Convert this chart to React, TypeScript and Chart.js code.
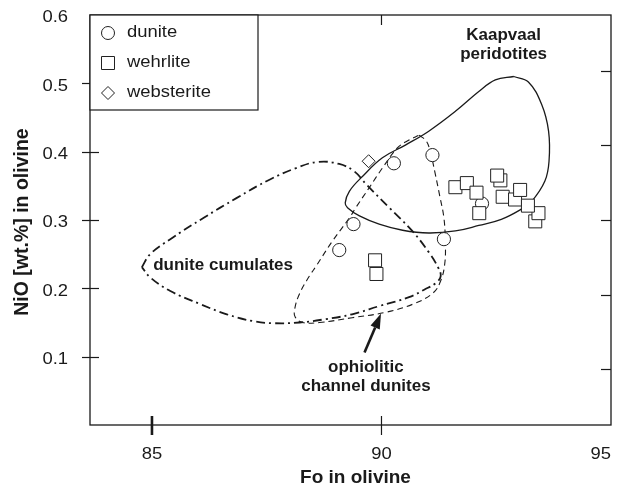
import React, { useEffect, useRef } from "react";
import { Chart, registerables } from "chart.js";

Chart.register(...registerables);

// ---- data (Fo in olivine, NiO wt.%) ----
const duniteFo = [90.27, 91.11, 89.39, 89.08, 91.36, 92.19];
const duniteNiO = [0.383, 0.395, 0.294, 0.256, 0.272, 0.324];

const wehrliteFo = [91.61, 91.86, 92.07, 92.13, 92.59, 92.52, 92.64, 92.91, 93.02, 93.35, 93.42, 93.19, 89.86, 89.89];
const wehrliteNiO = [0.348, 0.354, 0.340, 0.310, 0.358, 0.365, 0.334, 0.330, 0.344, 0.298, 0.310, 0.321, 0.241, 0.221];

const websteriteFo = [89.72];
const websteriteNiO = [0.386];

const kaapvaalFo = [92.88, 93.2, 93.49, 93.64, 93.65, 93.56, 93.27, 93.05, 92.61, 92.12, 91.61, 91.03, 90.46, 89.95, 89.52, 89.26, 89.21, 89.3, 89.59, 90.02, 90.53, 91.03, 91.61, 92.12, 92.48];
const kaapvaalNiO = [0.51, 0.502, 0.469, 0.43, 0.386, 0.357, 0.327, 0.316, 0.301, 0.292, 0.284, 0.281, 0.285, 0.294, 0.306, 0.318, 0.325, 0.342, 0.364, 0.391, 0.41, 0.43, 0.459, 0.488, 0.505];

const ophioliticFo = [90.82, 90.97, 91.06, 91.16, 91.27, 91.36, 91.39, 91.38, 91.29, 91.12, 90.69, 90.1, 89.36, 88.65, 88.28, 88.12, 88.11, 88.22, 88.43, 88.58, 88.93, 89.3, 89.45, 89.73, 90.02, 90.34, 90.6];
const ophioliticNiO = [0.424, 0.416, 0.401, 0.371, 0.335, 0.303, 0.269, 0.237, 0.211, 0.193, 0.177, 0.165, 0.157, 0.15, 0.15, 0.158, 0.17, 0.193, 0.218, 0.233, 0.269, 0.303, 0.319, 0.347, 0.376, 0.405, 0.417];

const cumulatesFo = [84.78, 84.96, 85.4, 86.12, 86.84, 87.56, 88.14, 88.61, 89.08, 89.41, 89.67, 90.17, 90.67, 91.03, 91.23, 91.29, 91.19, 90.93, 90.6, 89.95, 89.36, 88.79, 88.22, 87.64, 87.2, 86.63, 86.05, 85.4, 84.96];
const cumulatesNiO = [0.231, 0.25, 0.272, 0.303, 0.332, 0.359, 0.376, 0.385, 0.382, 0.371, 0.352, 0.318, 0.284, 0.253, 0.231, 0.218, 0.208, 0.198, 0.187, 0.174, 0.162, 0.155, 0.15, 0.149, 0.152, 0.162, 0.177, 0.196, 0.216];

// ---- axes / ticks ----
const xTickValues = [85, 90, 95];
const yTickValues = [0.1, 0.2, 0.3, 0.4, 0.5, 0.6];
const rightTickValues = [1, 2, 3, 4, 5];
const xTitle = "Fo in olivine";
const yTitle = "NiO [wt.%] in olivine";

// ---- legend & annotations ----
const legendLabels = ["dunite", "wehrlite", "websterite"];
const legendStyles = ["circle", "rect", "rectRot"];
const labelTexts = ["Kaapvaal", "peridotites", "dunite cumulates", "ophiolitic", "channel dunites"];
const labelFo = [92.66, 92.66, 86.55, 89.66, 89.66];
const labelNiO = [0.57, 0.542, 0.234, 0.084, 0.056];
const arrowFo = [89.63, 89.99];
const arrowNiO = [0.106, 0.163];

const FONT = "'Liberation Sans', Arial, Helvetica, sans-serif";
const INK = "#1a1a1a";

const pts = (xs: number[], ys: number[]) => xs.map((x, i) => ({ x, y: ys[i] }));
const closed = (xs: number[], ys: number[]) => {
  const p = pts(xs, ys);
  return [...p, p[0]];
};

function drawText(ctx: CanvasRenderingContext2D, text: string, x: number, y: number, font: string, align: CanvasTextAlign, stretch = 1) {
  ctx.save();
  ctx.font = font;
  ctx.fillStyle = INK;
  ctx.textBaseline = "middle";
  ctx.textAlign = align;
  ctx.translate(x, y);
  ctx.scale(stretch, 1);
  ctx.fillText(text, 0, 0);
  ctx.restore();
}

function drawMarker(ctx: CanvasRenderingContext2D, style: string, x: number, y: number) {
  ctx.save();
  ctx.beginPath();
  if (style === "circle") {
    ctx.arc(x, y, 6.5, 0, Math.PI * 2);
  } else if (style === "rect") {
    ctx.rect(x - 6.5, y - 6.5, 13, 13);
  } else {
    ctx.moveTo(x - 6.5, y);
    ctx.lineTo(x, y - 6.5);
    ctx.lineTo(x + 6.5, y);
    ctx.lineTo(x, y + 6.5);
    ctx.closePath();
  }
  ctx.fillStyle = "#fff";
  ctx.fill();
  ctx.lineWidth = 1;
  ctx.strokeStyle = "#222";
  ctx.stroke();
  ctx.restore();
}

const decorPlugin = {
  id: "decor",
  beforeDraw(chart: any) {
    const ctx = chart.ctx;
    ctx.save();
    ctx.fillStyle = "#fff";
    ctx.fillRect(0, 0, chart.width, chart.height);
    ctx.restore();
  },
  afterDatasetsDraw(chart: any) {
    const ctx: CanvasRenderingContext2D = chart.ctx;
    const { left, right, top, bottom } = chart.chartArea;
    const xs = chart.scales.x;
    const ys = chart.scales.y;
    const y2 = chart.scales.y2;

    ctx.save();
    ctx.strokeStyle = INK;
    // frame
    ctx.lineWidth = 1.3;
    ctx.strokeRect(left, top, right - left, bottom - top);

    // left ticks (crossing)
    ctx.lineWidth = 1.2;
    yTickValues.forEach((v) => {
      if (v >= 0.6) return;
      const py = Math.round(ys.getPixelForValue(v)) + 0.5;
      ctx.beginPath();
      ctx.moveTo(left - 8, py);
      ctx.lineTo(left + 9, py);
      ctx.stroke();
    });
    // bottom ticks (crossing) and top inward ticks
    xTickValues.forEach((v, i) => {
      if (v >= 95) return;
      const px = xs.getPixelForValue(v);
      ctx.lineWidth = i === 0 ? 2.6 : 1.2;
      ctx.beginPath();
      ctx.moveTo(px, bottom - 9);
      ctx.lineTo(px, bottom + 10);
      ctx.stroke();
      ctx.lineWidth = 1.2;
      ctx.beginPath();
      ctx.moveTo(px, top);
      ctx.lineTo(px, top + 10);
      ctx.stroke();
    });
    // right inward ticks (secondary scale)
    ctx.lineWidth = 1.2;
    rightTickValues.forEach((v) => {
      const py = Math.round(y2.getPixelForValue(v)) + 0.5;
      ctx.beginPath();
      ctx.moveTo(right - 10, py);
      ctx.lineTo(right, py);
      ctx.stroke();
    });
    ctx.restore();

    // tick labels
    const tickFont = `16px ${FONT}`;
    yTickValues.forEach((v) => {
      drawText(ctx, v.toFixed(1), left - 22, ys.getPixelForValue(v) + 3, tickFont, "right", 1.15);
    });
    xTickValues.forEach((v) => {
      const px = xs.getPixelForValue(v);
      if (px + 11 > right) drawText(ctx, String(v), right, bottom + 30, tickFont, "right", 1.15);
      else drawText(ctx, String(v), px, bottom + 30, tickFont, "center", 1.15);
    });

    // axis titles
    drawText(ctx, xTitle, (left + right) / 2 + 5, bottom + 53, `bold 19px ${FONT}`, "center");
    ctx.save();
    ctx.translate(23, (top + bottom) / 2 + 2);
    ctx.rotate(-Math.PI / 2);
    drawText(ctx, yTitle, 0, 0, `bold 19.5px ${FONT}`, "center");
    ctx.restore();

    // legend
    ctx.save();
    ctx.fillStyle = "#fff";
    ctx.fillRect(left, top, 168, 95);
    ctx.strokeStyle = INK;
    ctx.lineWidth = 1.2;
    ctx.strokeRect(left, top, 168, 95);
    ctx.restore();
    legendLabels.forEach((lab, i) => {
      const cy = top + 18 + i * 30;
      drawMarker(ctx, legendStyles[i], left + 18, cy);
      drawText(ctx, lab, left + 37, cy, `16px ${FONT}`, "left", 1.15);
    });

    // annotations
    labelTexts.forEach((t, i) => {
      drawText(ctx, t, xs.getPixelForValue(labelFo[i]), ys.getPixelForValue(labelNiO[i]), `bold 17px ${FONT}`, "center");
    });

    // arrow
    const x0 = xs.getPixelForValue(arrowFo[0]);
    const y0 = ys.getPixelForValue(arrowNiO[0]);
    const x1 = xs.getPixelForValue(arrowFo[1]);
    const y1 = ys.getPixelForValue(arrowNiO[1]);
    const ang = Math.atan2(y1 - y0, x1 - x0);
    const headLen = 15;
    const headW = 5;
    const bx = x1 - headLen * Math.cos(ang);
    const by = y1 - headLen * Math.sin(ang);
    ctx.save();
    ctx.strokeStyle = INK;
    ctx.fillStyle = INK;
    ctx.lineWidth = 2.6;
    ctx.beginPath();
    ctx.moveTo(x0, y0);
    ctx.lineTo(bx, by);
    ctx.stroke();
    ctx.beginPath();
    ctx.moveTo(x1, y1);
    ctx.lineTo(bx + headW * Math.sin(ang), by - headW * Math.cos(ang));
    ctx.lineTo(bx - headW * Math.sin(ang), by + headW * Math.cos(ang));
    ctx.closePath();
    ctx.fill();
    ctx.restore();
  },
};

export default function App() {
  const ref = useRef<HTMLCanvasElement | null>(null);
  useEffect(() => {
    if (!ref.current) return;
    const pointBase = {
      showLine: false,
      backgroundColor: "#ffffff",
      borderColor: "#222222",
      pointBorderWidth: 1,
      pointBackgroundColor: "#ffffff",
      pointBorderColor: "#222222",
    };
    const lineBase = {
      showLine: true,
      pointRadius: 0,
      pointHoverRadius: 0,
      fill: false,
      tension: 0.4,
      borderColor: INK,
    };
    const chart = new Chart(ref.current, {
      type: "scatter",
      data: {
        datasets: [
          { ...pointBase, label: "websterite", data: pts(websteriteFo, websteriteNiO), pointStyle: "rectRot", pointRadius: 6.5 },
          { ...pointBase, label: "wehrlite", data: pts(wehrliteFo, wehrliteNiO), pointStyle: "rect", pointRadius: 9.2 },
          { ...pointBase, label: "dunite", data: pts(duniteFo, duniteNiO), pointStyle: "circle", pointRadius: 6.6 },
          { ...lineBase, label: "Kaapvaal peridotites", data: closed(kaapvaalFo, kaapvaalNiO), borderWidth: 1.3 },
          { ...lineBase, label: "ophiolitic channel dunites", data: closed(ophioliticFo, ophioliticNiO), borderWidth: 1.1, borderDash: [6, 4] },
          { ...lineBase, label: "dunite cumulates", data: closed(cumulatesFo, cumulatesNiO), borderWidth: 1.8, borderDash: [9, 4, 2, 4] },
        ],
      } as any,
      options: {
        responsive: false,
        animation: false,
        events: [],
        layout: { padding: { left: 90, right: 14, top: 15, bottom: 63 } },
        plugins: { legend: { display: false }, tooltip: { enabled: false } },
        scales: {
          x: { type: "linear", min: 83.65, max: 95, display: false },
          y: { type: "linear", min: 0, max: 0.6, display: false },
          y2: { type: "linear", position: "right", min: 0.25, max: 5.75, display: false },
        },
      } as any,
      plugins: [decorPlugin],
    });
    return () => chart.destroy();
  }, []);
  return (
    <div style={{ position: "fixed", left: 0, top: 0, width: 625, height: 488, background: "#fff" }}>
      <canvas ref={ref} width={625} height={488} style={{ display: "block", width: 625, height: 488 }} />
    </div>
  );
}
